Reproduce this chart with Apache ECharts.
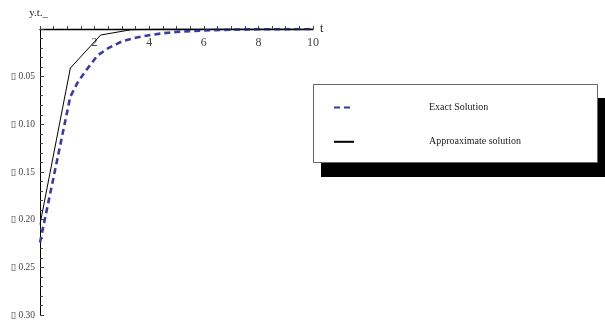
<!DOCTYPE html>
<html><head><meta charset="utf-8">
<script src="https://cdn.jsdelivr.net/npm/echarts@6/dist/echarts.min.js"></script>
<style>html,body{margin:0;padding:0;background:#fff}#c{width:605px;height:325px}</style>
</head><body><div id="c"></div>
<script>
// Exact solution (blue dashed)
var exactT = [0, 1.11, 1.4, 1.7, 2.1, 2.5, 3.0, 3.5, 4.0, 4.5, 5.0, 6.0, 7.0, 8.0, 10.0];
var exactY = [-0.224, -0.071, -0.055, -0.043, -0.028, -0.020, -0.013, -0.0092, -0.0065, -0.0045, -0.003, -0.0015, -0.0007, -0.0003, 0];
// Approximate solution (black solid)
var approxT = [0, 1.111, 2.222, 3.333, 4.444, 5.556, 6.667, 7.778, 8.889, 10];
var approxY = [-0.205, -0.041, -0.0063, -0.0008, -0.0001, 0, 0, 0, 0, 0];
var seriesNames = ['Exact Solution', 'Approaximate solution'];
var xTickLabels = ['', '2', '4', '6', '8', '10'];
var yTickLabels = ['', '\u25AF 0.05', '\u25AF 0.10', '\u25AF 0.15', '\u25AF 0.20', '\u25AF 0.25', '\u25AF 0.30'];

function pairs(t, y){ return t.map(function(v,i){ return [v, y[i]]; }); }
var serif = '"Liberation Serif", "DejaVu Serif", serif';
var chart = echarts.init(document.getElementById('c'), null, {renderer:'canvas'});
chart.setOption({
  animation: false,
  backgroundColor: '#fff',
  grid: {left: 40, top: 29, right: 292, bottom: 10, containLabel: false},
  xAxis: {
    type: 'value', min: 0, max: 10, interval: 2, position: 'top',
    name: 't', nameLocation: 'end', nameGap: 7,
    nameTextStyle: {fontFamily: serif, fontSize: 12, color: '#222'},
    axisLine: {onZero: false, lineStyle: {color: '#000', width: 1.3}},
    axisTick: {show: true, inside: false, length: 3, lineStyle: {color: '#444'}},
    minorTick: {show: true, splitNumber: 4, length: 3, lineStyle: {color: '#444'}},
    axisLabel: {inside: true, margin: 8, fontFamily: serif, fontSize: 12, color: '#444',
      formatter: function(v){ return xTickLabels[Math.round(v/2)] || ''; }},
    splitLine: {show: false}
  },
  yAxis: {
    type: 'value', min: -0.30, max: 0, interval: 0.05,
    name: 'y.t._', nameLocation: 'end', nameGap: 10,
    nameTextStyle: {fontFamily: serif, fontSize: 11, color: '#222', align: 'right', padding: [0,-8,0,0]},
    axisLine: {onZero: false, lineStyle: {color: '#000', width: 1}},
    axisTick: {show: true, inside: true, length: 4, lineStyle: {color: '#444'}},
    minorTick: {show: true, splitNumber: 5, length: 3, lineStyle: {color: '#444'}},
    axisLabel: {margin: 5, fontFamily: serif, fontSize: 9.5, color: '#444',
      formatter: function(v){ return yTickLabels[Math.round(-v/0.05)] || ''; }},
    splitLine: {show: false}
  },
  legend: {
    orient: 'vertical', left: 328, top: 97, itemWidth: 20, itemHeight: 14, itemGap: 23,
    z: 10,
    itemStyle: {opacity: 0},
    textStyle: {fontFamily: serif, fontSize: 10, color: '#222', padding: [0,0,0,70]},
    data: seriesNames
  },
  graphic: [
    {type: 'rect', z: 1, shape: {x: 321, y: 98, width: 284, height: 79}, style: {fill: '#000'}},
    {type: 'rect', z: 2, shape: {x: 313.5, y: 84.5, width: 284, height: 78}, style: {fill: '#fff', stroke: '#666', lineWidth: 1}}
  ],
  series: [
    {name: seriesNames[0], type: 'line', symbol: 'none', z: 3,
     data: pairs(exactT, exactY),
     lineStyle: {color: '#3c3c9c', width: 2.6, type: [6, 4]},
     itemStyle: {color: '#3c3c9c'}},
    {name: seriesNames[1], type: 'line', symbol: 'none', z: 4,
     data: pairs(approxT, approxY),
     lineStyle: {color: '#000', width: 1},
     itemStyle: {color: '#000'}}
  ]
});
</script></body></html>
